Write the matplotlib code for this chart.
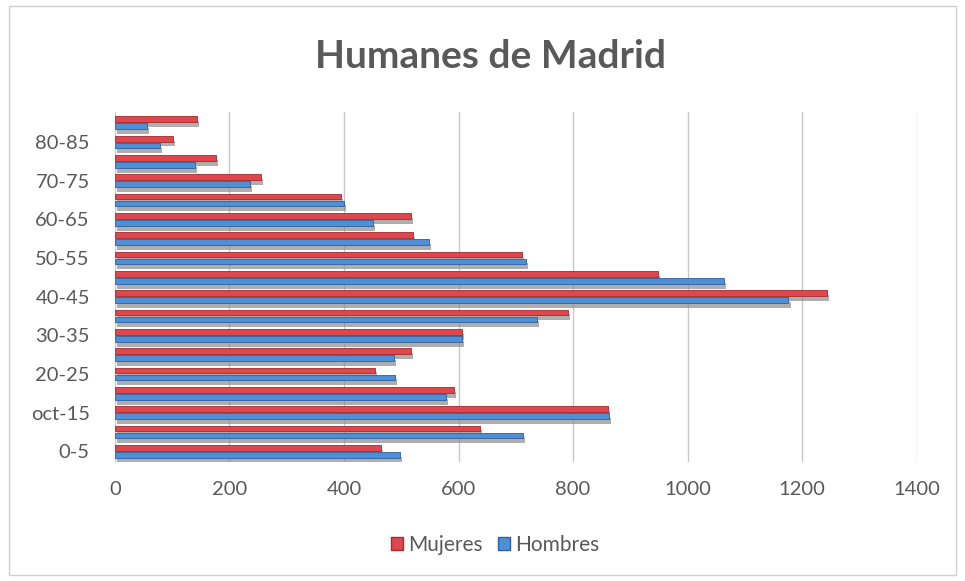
import matplotlib
matplotlib.use("Agg")
import matplotlib.pyplot as plt
import matplotlib.patheffects as pe
import numpy as np
from matplotlib.patches import Rectangle

# Population of Humanes de Madrid by age group
age_groups = ["0-5", "5-10", "oct-15", "15-20", "20-25", "25-30", "30-35", "35-40",
              "40-45", "45-50", "50-55", "55-60", "60-65", "65-70", "70-75", "75-80",
              "80-85", "85+"]
mujeres = [465, 638, 861, 592, 454, 517, 606, 791, 1243, 948, 711, 521, 517, 395,
           255, 176, 101, 144]
hombres = [498, 713, 863, 578, 489, 487, 606, 737, 1176, 1064, 718, 549, 450, 400,
           236, 140, 79, 56]
tick_labels = [g if i % 2 == 0 else "" for i, g in enumerate(age_groups)]

RED = "#e0474c"
BLUE = "#4f8fd6"
TEXT = "#595959"

plt.rcParams["font.family"] = ["Lato", "DejaVu Sans"]

fig = plt.figure(figsize=(9.65, 5.81), dpi=100)
ax = fig.add_axes([0.119, 0.205, 0.831, 0.602])

y = np.arange(len(age_groups))
h = 0.30
shadow = [pe.SimplePatchShadow(offset=(1.5, -3.5), shadow_rgbFace="#8c8c8c", alpha=0.7),
          pe.Normal()]
bars_m = ax.barh(y + 0.18, mujeres, height=h, color=RED, edgecolor="#a32a2e",
                 linewidth=0.6, label="Mujeres", zorder=3)
bars_h = ax.barh(y - 0.18, hombres, height=h, color=BLUE, edgecolor="#2f5f9e",
                 linewidth=0.6, label="Hombres", zorder=3)
for b in list(bars_m) + list(bars_h):
    b.set_path_effects(shadow)

ax.set_xlim(0, 1400)
ax.set_ylim(-0.55, 17.55)
ax.set_xticks(np.arange(0, 1401, 200))
ax.set_yticks(y)
ax.set_yticklabels(tick_labels)
ax.grid(axis="x", color="#c8c8c8", linewidth=1.0, zorder=0)
ax.tick_params(axis="both", length=0, labelcolor=TEXT)
ax.tick_params(axis="x", pad=14, labelsize=14.5)
ax.tick_params(axis="y", pad=18, labelsize=14.5)
for s in ax.spines.values():
    s.set_visible(False)

fig.text(0.508, 0.903, "Humanes de Madrid", ha="center", va="center",
         fontsize=28, fontweight="bold", color=TEXT)

handles = [Rectangle((0, 0), 1, 1, facecolor=RED, edgecolor="#a32a2e"),
           Rectangle((0, 0), 1, 1, facecolor=BLUE, edgecolor="#2f5f9e")]
fig.legend(handles, ["Mujeres", "Hombres"], loc="center", bbox_to_anchor=(0.513, 0.062),
           ncol=2, frameon=False, fontsize=15, handlelength=0.6, handleheight=0.6,
           handletextpad=0.25, columnspacing=0.7, labelcolor=TEXT)

# light outer frame of the chart area
fig.add_artist(Rectangle((0.009, 0.01), 0.982, 0.98, transform=fig.transFigure,
                         fill=False, edgecolor="#d0d0d0", linewidth=1.0))

fig.savefig("out.png", dpi=100)
